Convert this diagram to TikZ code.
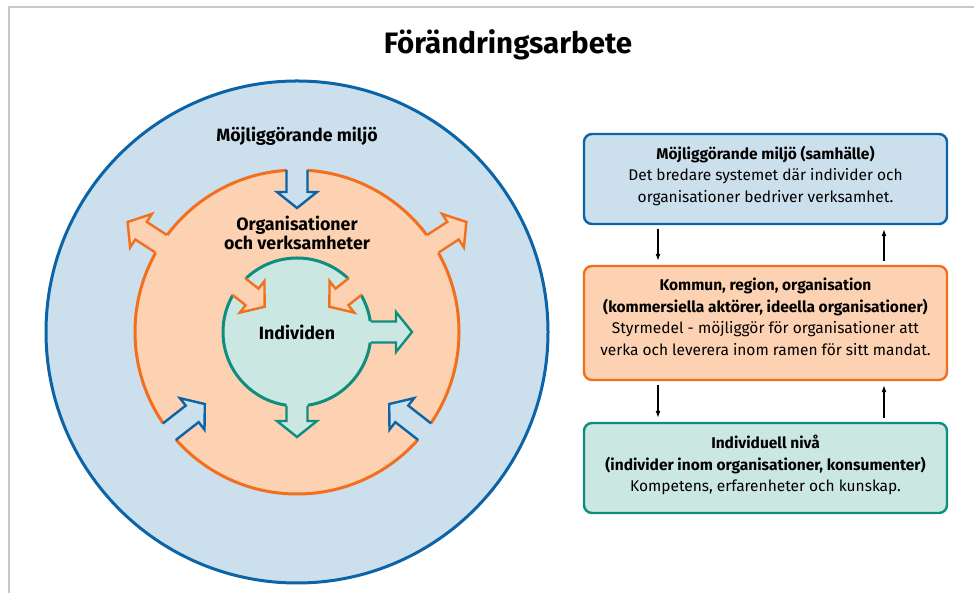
\documentclass[tikz,border=0pt]{standalone}
\usepackage{fontspec}
\setmainfont{Fira Sans}
\usetikzlibrary{arrows.meta}

\definecolor{envfill}{HTML}{CCDFEC}
\definecolor{envline}{HTML}{0B63A8}
\definecolor{orgfill}{HTML}{FDD2B2}
\definecolor{orgline}{HTML}{F26F1E}
\definecolor{indfill}{HTML}{CBE7E2}
\definecolor{indline}{HTML}{0F8D7E}
\definecolor{framegray}{HTML}{C8C8C8}

% block arrow: angle, start radius, tip radius, fill, line
\newcommand{\blockarr}[5]{%
    \begin{scope}[shift={(297,261)}, rotate=#1]
        \pgfmathsetmacro{\arrneck}{#3-16*sign(#3-#2)}
        \pgfmathsetmacro{\arrbase}{#2-4*sign(#3-#2)}
        \fill[#4] (\arrbase,10.5) -- (\arrneck,10.5) -- (\arrneck,20) -- (#3,0)
            -- (\arrneck,-20) -- (\arrneck,-10.5) -- (\arrbase,-10.5) -- cycle;
        \draw[#5, line width=2.4pt, line join=miter] (#2,10.5) -- (\arrneck,10.5)
            -- (\arrneck,20) -- (#3,0) -- (\arrneck,-20) -- (\arrneck,-10.5) -- (#2,-10.5);
    \end{scope}
}

\tikzset{
    infobox/.style={rounded corners=8pt, line width=2.4pt, minimum width=363pt, inner sep=0pt},
    boxtext/.style={align=center, font=\fontsize{15.5}{21.5}\selectfont},
    ringlabel/.style={align=center, font=\fontsize{17.8}{17}\selectfont\bfseries},
    boxarrow/.style={-{Latex[length=7pt,width=5pt]}, line width=1.1pt}
}

\begin{document}
\begin{tikzpicture}[x=1pt, y=1pt]
    \useasboundingbox (0,0) rectangle (974,593);
    \fill[white] (0,0) rectangle (974,593);
    \draw[framegray, line width=2pt] (9,0) -- (9,586) -- (974,586);

    \node[font=\fontsize{29.5}{30}\selectfont\bfseries] (title) at (508,548) {Förändringsarbete};

    % circles
    \filldraw[fill=envfill, draw=envline, line width=3pt] (297,261) circle (251);
    \filldraw[fill=orgfill, draw=orgline, line width=3pt] (297,261) circle (162);
    \filldraw[fill=indfill, draw=indline, line width=3pt] (297,261) circle (74);

    % arrows on the rings
    \blockarr{90}{162}{124}{envfill}{envline}
    \foreach \a in {218,322} {
        \blockarr{\a}{162}{117}{envfill}{envline}
    }
    \foreach \a in {33,147} {
        \blockarr{\a}{162}{202}{orgfill}{orgline}
    }
    \foreach \a in {38,142} {
        \blockarr{\a}{74}{41}{orgfill}{orgline}
    }
    \blockarr{0}{74}{115}{indfill}{indline}
    \blockarr{270}{74}{105}{indfill}{indline}

    \node[ringlabel] (envlabel) at (297,457) {Möjliggörande miljö};
    \node[ringlabel] (orglabel) at (297,360) {Organisationer\\och verksamheter};
    \node[ringlabel] (indlabel) at (297,261) {Individen};

    % boxes
    \node[infobox, draw=envline, fill=envfill, minimum height=90pt] (envbox) at (765.5,414) {};
    \node[infobox, draw=orgline, fill=orgfill, minimum height=114pt] (orgbox) at (765.5,270) {};
    \node[infobox, draw=indline, fill=indfill, minimum height=90pt] (indbox) at (765.5,125) {};

    \node[boxtext] (envtext) at ([yshift=3pt]envbox.center)
        {\textbf{Möjliggörande miljö (samhälle)}\\Det bredare systemet där individer och\\organisationer bedriver verksamhet.};
    \node[boxtext] (orgtext) at ([yshift=6pt]orgbox.center)
        {\textbf{Kommun, region, organisation}\\\textbf{(kommersiella aktörer, ideella organisationer)}\\Styrmedel - möjliggör för organisationer att\\verka och leverera inom ramen för sitt mandat.};
    \node[boxtext] (indtext) at ([yshift=3pt]indbox.center)
        {\textbf{Individuell nivå}\\\textbf{(individer inom organisationer, konsumenter)}\\Kompetens, erfarenheter och kunskap.};

    \draw[boxarrow] ([xshift=-107.5pt,yshift=-4pt]envbox.south) -- ([xshift=-107.5pt,yshift=4pt]orgbox.north);
    \draw[boxarrow] ([xshift=118.5pt,yshift=4pt]orgbox.north) -- ([xshift=118.5pt,yshift=-4pt]envbox.south);
    \draw[boxarrow] ([xshift=-107.5pt,yshift=-4pt]orgbox.south) -- ([xshift=-107.5pt,yshift=4pt]indbox.north);
    \draw[boxarrow] ([xshift=118.5pt,yshift=4pt]indbox.north) -- ([xshift=118.5pt,yshift=-4pt]orgbox.south);
\end{tikzpicture}
\end{document}
